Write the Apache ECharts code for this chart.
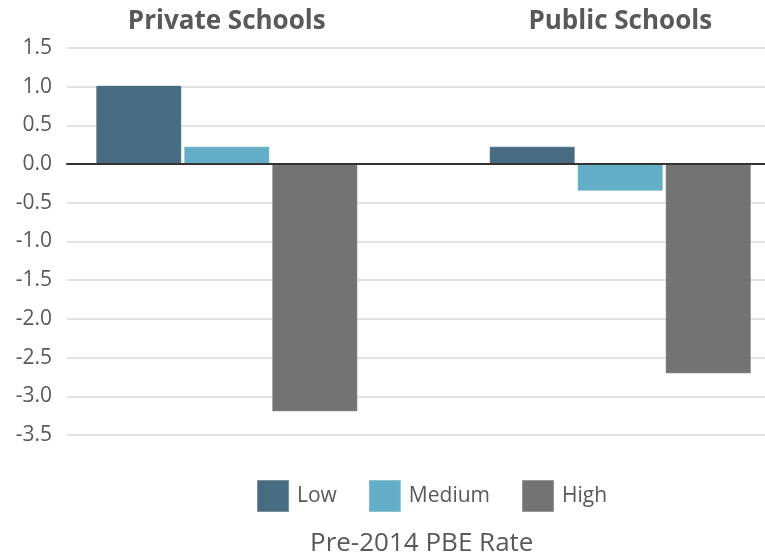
<!DOCTYPE html>
<html>
<head>
<meta charset="utf-8">
<script src="https://cdn.jsdelivr.net/npm/echarts@6/dist/echarts.min.js"></script>
<style>
html,body{margin:0;padding:0;background:#fff;}
#c{width:765px;height:557px;}
</style>
</head>
<body>
<div id="c"></div>
<script>
var categories = ['Private Schools', 'Public Schools'];
var seriesNames = ['Low', 'Medium', 'High'];
var lowValues = [1.02, 0.23];
var mediumValues = [0.23, -0.35];
var highValues = [-3.20, -2.71];
var yMin = -3.5, yMax = 1.5, yStep = 0.5;
var axisTitle = 'Pre-2014 PBE Rate';

var colors = ['#476c81', '#65aec8', '#737373'];
var font = '"Open Sans", "Segoe UI", sans-serif';
var chart = echarts.init(document.getElementById('c'));
var values = [lowValues, mediumValues, highValues];

chart.setOption({
  animation: false,
  color: colors,
  textStyle: {fontFamily: font},
  grid: [
    {left: 67, top: 48, width: 698, height: 387, outerBoundsMode: 'none', containLabel: false},
    {left: 30, top: 48, width: 787, height: 387, outerBoundsMode: 'none', containLabel: false}
  ],
  xAxis: [
    {gridIndex: 0, type: 'value', min: 0, max: 1, axisLabel: {show: false}, axisTick: {show: false}, splitLine: {show: false},
      axisLine: {show: true, onZero: true, lineStyle: {color: '#333', width: 2}}, z: 5},
    {gridIndex: 1, type: 'category', data: categories, position: 'top',
      axisLine: {show: false}, axisTick: {show: false},
      axisLabel: {margin: 13, fontSize: 26, fontWeight: 'bold', color: '#595959', fontFamily: font}}
  ],
  yAxis: [
    {gridIndex: 0, type: 'value', min: yMin, max: yMax, interval: yStep,
      axisLine: {show: false}, axisTick: {show: false},
      axisLabel: {margin: 15, fontSize: 21, color: '#595959', fontFamily: font, formatter: function(v){return v.toFixed(1);}},
      splitLine: {lineStyle: {color: '#d9d9d9', width: 1.5}}},
    {gridIndex: 1, type: 'value', min: yMin, max: yMax, interval: yStep, show: false, splitLine: {show: false}}
  ],
  legend: {
    data: seriesNames, left: 256, top: 479, padding: 0, itemWidth: 32, itemHeight: 32, itemGap: 31,
    icon: 'rect', textStyle: {fontSize: 21, color: '#595959', fontFamily: font, padding: [0, 0, 0, 3]}
  },
  graphic: [{type: 'text', left: 310, top: 531, style: {text: axisTitle, fontSize: 26, fill: '#595959', fontFamily: font}}],
  series: seriesNames.map(function(n, i){
    return {
      name: n, type: 'bar', xAxisIndex: 1, yAxisIndex: 1, data: values[i],
      barCategoryGap: '33.4%', barGap: '2.3%',
      itemStyle: {color: colors[i], borderColor: 'rgba(255,255,255,0.25)', borderWidth: 1}
    };
  })
});
</script>
</body>
</html>
